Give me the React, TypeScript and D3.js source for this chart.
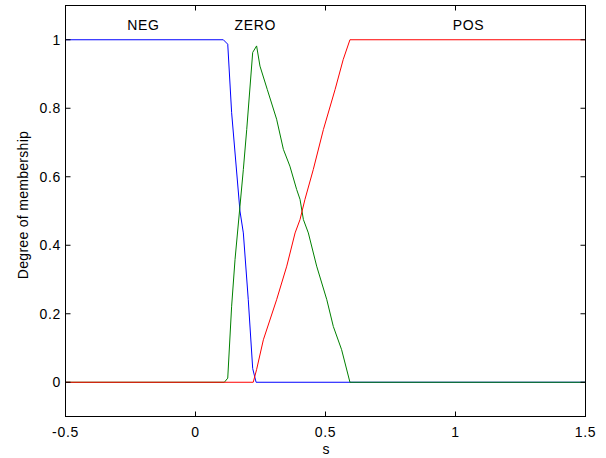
import React from "react";
import * as d3 from "d3";

const negS = [-0.5, 0.107, 0.124, 0.139, 0.171, 0.184, 0.203, 0.22, 0.233, 1.5];
const negMu = [1, 1, 0.987, 0.787, 0.5, 0.436, 0.241, 0.04, 0, 0];

const zeroS = [-0.5, 0.111, 0.124, 0.139, 0.152, 0.171, 0.184, 0.197, 0.22, 0.235, 0.248, 0.276, 0.312, 0.338, 0.363, 0.389, 0.402, 0.415, 0.434, 0.466, 0.505, 0.53, 0.562, 0.594, 1.5];
const zeroMu = [0, 0, 0.012, 0.222, 0.358, 0.514, 0.621, 0.738, 0.963, 0.982, 0.923, 0.855, 0.768, 0.68, 0.631, 0.563, 0.534, 0.475, 0.436, 0.339, 0.241, 0.163, 0.095, 0, 0];

const posS = [-0.5, 0.222, 0.235, 0.261, 0.312, 0.351, 0.383, 0.402, 0.421, 0.453, 0.492, 0.537, 0.568, 0.594, 1.5];
const posMu = [0, 0, 0.037, 0.124, 0.241, 0.339, 0.436, 0.475, 0.534, 0.621, 0.738, 0.855, 0.942, 1, 1];

const xTicks = [-0.5, 0, 0.5, 1, 1.5];
const yTicks = [0, 0.2, 0.4, 0.6, 0.8, 1];
const labelNames = ["NEG", "ZERO", "POS"];
const labelPos = [-0.2, 0.23, 1.05];

const W = 606, H = 458;
const L = 65.5, R = 585.5, T = 5.5, B = 416.5;

export default function App() {
  const x = d3.scaleLinear().domain([-0.5, 1.5]).range([L, R]);
  const y = d3.scaleLinear().domain([-0.1, 1.1]).range([B, T]);
  const line = d3.line<[number, number]>().x(d => x(d[0])).y(d => y(d[1]));
  const series = [
    { s: negS, m: negMu, c: "#0000ff" },
    { s: zeroS, m: zeroMu, c: "#008000" },
    { s: posS, m: posMu, c: "#ff0000" },
  ];
  const font = "'Liberation Sans', Arial, sans-serif";
  const tl = 5;
  const fs = 14;
  const ls = 0.7;
  return (
    <svg width={W} height={H} style={{ position: "absolute", left: 0, top: 0, background: "#fff" }} fontFamily={font}>
      <rect x={0} y={0} width={W} height={H} fill="#fff" />
      {series.map((sr, i) => (
        <path key={i} d={line(sr.s.map((v, j) => [v, sr.m[j]] as [number, number])) || ""} fill="none" stroke={sr.c} strokeWidth={1} />
      ))}
      <rect x={L} y={T} width={R - L} height={B - T} fill="none" stroke="#000" strokeWidth={1} />
      {xTicks.map(t => (
        <g key={"x" + t}>
          <line x1={x(t)} x2={x(t)} y1={B} y2={B - tl} stroke="#000" />
          <line x1={x(t)} x2={x(t)} y1={T} y2={T + tl} stroke="#000" />
          <text x={x(t)} y={437} fontSize={fs} letterSpacing={ls} textAnchor="middle">{t}</text>
        </g>
      ))}
      {yTicks.map(t => (
        <g key={"y" + t}>
          <line x1={L} x2={L + tl} y1={y(t)} y2={y(t)} stroke="#000" />
          <line x1={R} x2={R - tl} y1={y(t)} y2={y(t)} stroke="#000" />
          <text x={61} y={y(t) + 5} fontSize={fs} letterSpacing={ls} textAnchor="end">{t}</text>
        </g>
      ))}
      {labelNames.map((n, i) => (
        <text key={n} x={x(labelPos[i])} y={30} fontSize={fs} letterSpacing={ls} textAnchor="middle">{n}</text>
      ))}
      <text x={326} y={454} fontSize={fs} textAnchor="middle">s</text>
      <text transform={`translate(28,205) rotate(-90)`} fontSize={fs} letterSpacing={0.3} textAnchor="middle">Degree of membership</text>
    </svg>
  );
}
